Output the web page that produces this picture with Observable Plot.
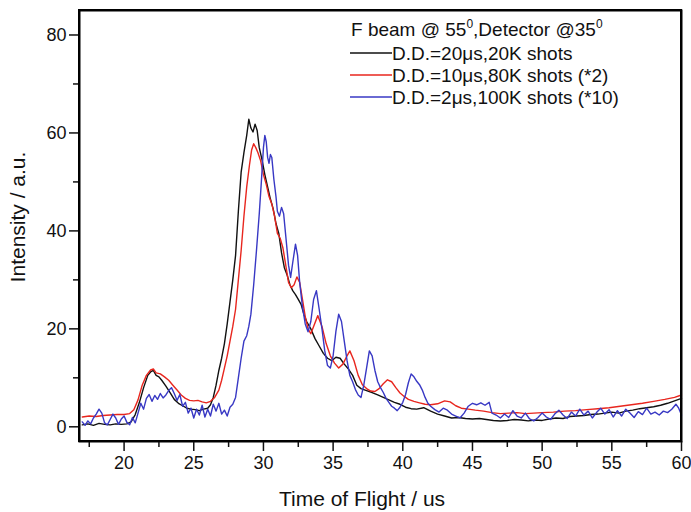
<!DOCTYPE html>
<html><head><meta charset="utf-8">
<script src="https://cdn.jsdelivr.net/npm/d3@7"></script>
<script src="https://cdn.jsdelivr.net/npm/@observablehq/plot@0.6"></script>
<style>body{margin:0;background:#fff} svg{display:block}</style>
</head><body><div id="chart"></div>
<script>
// ---- data ----
const blackT = [17.0,17.4,17.8,18.2,18.6,19.0,19.4,19.8,20.2,20.5,20.8,21.1,21.4,21.7,21.9,22.1,22.3,22.5,22.7,23.0,23.3,23.6,23.9,24.2,24.5,24.8,25.1,25.4,25.7,26.0,26.2,26.4,26.6,26.8,27.0,27.2,27.4,27.6,27.8,28.0,28.2,28.4,28.6,28.8,28.95,29.1,29.25,29.4,29.55,29.7,29.9,30.1,30.3,30.5,30.7,30.9,31.1,31.3,31.5,31.7,31.9,32.1,32.3,32.5,32.7,32.9,33.1,33.4,33.7,34.0,34.3,34.6,34.9,35.2,35.5,35.8,36.1,36.4,36.7,37.0,37.4,37.8,38.2,38.6,39.0,39.4,39.8,40.2,40.6,41.0,41.5,42.0,42.5,43.0,43.5,44.0,44.5,45.0,45.5,46.0,46.5,47.0,47.5,48.0,48.5,49.0,49.5,50.0,50.5,51.0,51.5,52.0,52.5,53.0,53.5,54.0,54.5,55.0,55.5,56.0,56.5,57.0,57.5,58.0,58.5,59.0,59.5,60.0];
const blackV = [0.4,0.6,0.3,0.7,0.5,0.4,0.6,0.5,0.6,1.0,2.5,5.0,8.0,10.5,11.2,11.5,10.5,10.2,9.5,8.3,7.0,5.6,4.8,4.3,3.8,3.6,3.5,3.3,3.6,3.8,4.5,6.0,8.5,11.5,14.0,17.0,21.0,25.5,30.0,35.0,44.0,52.0,56.0,59.5,62.8,61.0,60.2,61.8,60.5,57.0,54.5,51.5,49.0,46.5,44.5,41.5,39.5,35.5,32.5,31.0,29.0,27.8,27.0,26.0,25.0,23.0,21.5,20.0,18.0,16.5,15.0,14.0,13.5,14.2,14.0,12.8,11.8,10.5,8.5,7.8,7.4,7.0,6.5,6.0,5.5,5.0,4.6,4.0,3.7,3.6,3.9,3.2,2.6,2.2,1.8,1.9,1.7,1.6,1.7,1.5,1.3,1.2,1.3,1.5,1.4,1.2,1.4,1.3,1.6,1.8,1.7,2.1,2.2,2.3,2.5,2.6,2.8,3.0,2.8,3.2,3.4,3.7,3.9,4.1,4.4,4.8,5.3,5.8];

const redT = [17.0,17.5,18.0,18.5,19.0,19.5,20.0,20.4,20.7,21.0,21.3,21.6,21.9,22.1,22.3,22.6,22.9,23.2,23.5,23.8,24.1,24.4,24.7,25.0,25.3,25.6,25.9,26.2,26.5,26.8,27.0,27.2,27.4,27.6,27.8,28.0,28.2,28.4,28.6,28.8,29.0,29.15,29.3,29.45,29.6,29.8,30.0,30.2,30.4,30.6,30.8,31.0,31.2,31.4,31.6,31.8,32.0,32.2,32.4,32.6,32.8,33.0,33.2,33.4,33.6,33.9,34.2,34.5,34.8,35.1,35.4,35.7,36.0,36.2,36.5,36.8,37.1,37.4,37.7,38.0,38.3,38.6,38.9,39.2,39.5,39.8,40.1,40.4,40.8,41.2,41.6,42.0,42.5,43.0,43.4,43.8,44.2,44.7,45.2,45.8,46.4,47.0,47.6,48.2,48.8,49.4,50.0,50.8,51.6,52.4,53.2,54.0,54.8,55.6,56.4,57.2,58.0,58.8,59.5,60.0];
const redV = [2.0,2.2,2.1,2.3,2.4,2.5,2.5,2.7,3.5,5.5,8.5,10.5,11.6,11.8,11.0,10.8,10.2,9.5,8.5,7.5,6.5,5.8,5.4,5.3,5.4,5.1,4.9,5.2,6.0,7.5,9.5,12.0,14.5,17.5,20.5,24.0,30.0,36.0,43.0,49.0,53.5,56.5,57.8,57.0,56.0,54.3,51.5,49.5,47.0,45.5,43.0,39.5,38.5,36.5,33.0,29.5,28.4,29.0,30.6,29.5,26.0,22.5,20.0,19.0,20.5,22.7,20.5,17.0,14.5,13.0,12.0,12.8,14.5,15.5,13.5,10.5,8.6,7.8,7.3,7.2,7.8,8.8,9.6,9.2,8.0,6.9,6.2,5.6,5.2,4.9,4.6,4.5,4.7,5.3,5.1,4.3,3.8,3.6,3.4,3.2,2.9,2.7,2.8,2.9,2.7,2.8,2.9,3.0,3.2,3.3,3.5,3.7,3.9,4.2,4.5,4.8,5.2,5.6,6.0,6.5];

const blueT = [17.0,17.2,17.4,17.6,17.8,18.0,18.2,18.4,18.6,18.8,19.0,19.2,19.4,19.6,19.8,20.0,20.2,20.4,20.6,20.8,21.0,21.2,21.4,21.6,21.8,22.0,22.2,22.4,22.6,22.8,23.0,23.2,23.4,23.6,23.8,24.0,24.2,24.4,24.6,24.8,25.0,25.2,25.4,25.6,25.8,26.0,26.2,26.4,26.6,26.8,27.0,27.2,27.4,27.6,27.8,28.0,28.2,28.4,28.6,28.8,28.95,29.1,29.3,29.5,29.7,29.85,30.0,30.1,30.2,30.3,30.4,30.5,30.6,30.75,30.9,31.0,31.15,31.3,31.45,31.6,31.8,31.95,32.1,32.3,32.45,32.6,32.8,33.0,33.2,33.4,33.6,33.8,34.0,34.2,34.4,34.6,34.8,35.0,35.2,35.4,35.6,35.8,36.0,36.2,36.4,36.6,36.8,37.0,37.2,37.4,37.6,37.8,38.0,38.2,38.4,38.6,38.8,39.0,39.2,39.4,39.6,39.8,40.0,40.2,40.4,40.6,40.8,41.0,41.2,41.4,41.6,41.8,42.0,42.3,42.6,42.9,43.2,43.5,43.8,44.1,44.4,44.7,45.0,45.3,45.6,45.9,46.2,46.4,46.7,47.0,47.3,47.6,47.9,48.2,48.5,48.8,49.1,49.4,49.7,50.0,50.3,50.6,50.9,51.2,51.5,51.8,52.1,52.4,52.7,53.0,53.3,53.6,53.9,54.2,54.5,54.8,55.1,55.4,55.7,56.0,56.3,56.6,56.9,57.2,57.5,57.8,58.1,58.4,58.7,59.0,59.3,59.6,59.8,60.0];
const blueV = [1.0,0.3,1.2,0.6,1.8,2.6,3.6,2.8,0.8,0.4,1.5,2.6,1.8,0.5,1.6,2.2,0.9,0.4,1.9,0.8,2.8,4.8,3.6,5.8,6.6,5.2,6.4,5.6,6.8,5.9,6.5,7.4,8.0,6.8,5.4,6.6,4.2,5.0,2.8,3.8,1.8,3.6,2.4,4.4,2.0,3.6,2.2,4.6,3.2,4.8,2.6,3.4,2.2,4.0,4.6,6.0,10.0,14.0,17.5,18.6,20.5,23.0,29.0,36.0,43.5,50.0,57.0,59.5,58.2,55.0,53.8,55.6,55.0,50.5,47.0,44.0,43.0,44.8,43.5,39.0,33.0,30.5,33.5,37.3,35.0,29.5,24.5,21.0,19.4,21.5,26.0,27.8,24.0,20.0,15.5,12.5,12.0,14.5,19.5,23.0,21.5,17.5,13.5,10.5,9.2,7.6,6.5,6.0,8.5,12.0,15.5,14.5,11.5,9.2,8.0,7.0,5.8,5.0,4.2,3.8,3.3,4.0,5.0,6.6,9.0,10.8,10.2,9.3,8.6,7.5,6.0,4.8,4.2,3.5,3.0,3.8,3.4,2.6,2.2,1.8,2.8,4.2,4.8,4.5,4.9,4.4,5.0,2.8,2.4,1.8,2.6,1.9,3.3,2.2,1.8,2.8,1.6,1.2,1.9,2.8,2.0,1.5,2.6,3.4,2.4,1.7,3.0,2.2,3.6,2.4,3.2,1.8,2.9,3.8,2.6,3.5,2.0,3.3,2.2,3.6,2.8,1.9,3.1,2.5,3.8,2.6,3.0,2.4,3.2,2.9,3.6,4.6,3.8,2.4];

const seriesNames = ["D.D.=20\u03bcs,20K shots", "D.D.=10\u03bcs,80K shots (*2)", "D.D.=2\u03bcs,100K shots (*10)"];
const seriesColors = ["#111111", "#e8261e", "#3838c4"];
const xDomain = [16.8, 60];
const yDomain = [-3, 85];
const xMajor = [20, 25, 30, 35, 40, 45, 50, 55, 60];
const xMinor = [17.5, 22.5, 27.5, 32.5, 37.5, 42.5, 47.5, 52.5, 57.5];
const yMajor = [0, 20, 40, 60, 80];
const yMinor = [10, 30, 50, 70];
const xLabel = "Time of Flight / us";
const yLabel = "Intensity / a.u.";

(function () {
  // ---- build table ----
  const data = [];
  [[blackT, blackV], [redT, redV], [blueT, blueV]].forEach(([T, V], k) => {
    T.forEach((t, i) => data.push({series: seriesNames[k], t, v: V[i]}));
  });

  const font = "'Liberation Sans', Arial, sans-serif";
  const plot = Plot.plot({
    width: 691, height: 512,
    marginLeft: 79, marginRight: 10, marginTop: 10, marginBottom: 71,
    style: {fontFamily: font, fontSize: "18px", background: "white", color: "#111"},
    x: {domain: xDomain},
    y: {domain: yDomain},
    color: {domain: seriesNames, range: seriesColors},
    marks: [
      Plot.frame({stroke: "#000", strokeWidth: 2, fill: "none"}),
      Plot.axisX({ticks: xMajor, tickSize: 10, tickPadding: 5, label: null, strokeWidth: 1.5}),
      Plot.axisX({ticks: xMinor, tickSize: 6, tickFormat: () => "", label: null, strokeWidth: 1.5}),
      Plot.axisY({ticks: yMajor, tickSize: 10, tickPadding: 3, label: null, strokeWidth: 1.5}),
      Plot.axisY({ticks: yMinor, tickSize: 6, tickFormat: () => "", label: null, strokeWidth: 1.5}),
      Plot.line(data, {x: "t", y: "v", z: "series", stroke: "series", strokeWidth: 1.4, curve: "linear"})
    ]
  });
  document.getElementById("chart").appendChild(plot);

  const svg = d3.select(plot);
  const xr = plot.scale("x").range, yr = plot.scale("y").range;
  const fL = Math.min(...xr), fR = Math.max(...xr), fT = Math.min(...yr), fB = Math.max(...yr);

  // plot box as a path
  svg.append("path")
    .attr("d", `M${fL},${fT}L${fR},${fT}L${fR},${fB}L${fL},${fB}Z`)
    .style("fill", "none").style("stroke", "#000").style("stroke-width", "2px");

  // axis titles
  svg.append("text").attr("transform", `translate(${fL + 283},${fB + 65})`)
    .attr("text-anchor", "middle").attr("font-family", font).attr("font-size", 21).attr("fill", "#111").text(xLabel);
  svg.append("text").attr("transform", `translate(${fL - 54},${fT + 207}) rotate(-90)`)
    .attr("text-anchor", "middle").attr("font-family", font).attr("font-size", 21).attr("fill", "#111").text(yLabel);

  // ---- legend inside the frame ----
  const lg = svg.append("g").attr("font-family", font).attr("font-size", 19).attr("fill", "#111").attr("text-anchor", "start");
  const t0 = lg.append("text").attr("x", fL + 272).attr("y", fT + 26);
  t0.append("tspan").text("F beam @ 55");
  t0.append("tspan").attr("dy", -8).attr("font-size", 12).text("0");
  t0.append("tspan").attr("dy", 8).text(",Detector @35");
  t0.append("tspan").attr("dy", -8).attr("font-size", 12).text("0");
  seriesNames.forEach((name, i) => {
    const yy = fT + 43 + i * 22;
    lg.append("line").attr("x1", fL + 271).attr("x2", fL + 313).attr("y1", yy).attr("y2", yy)
      .attr("stroke", seriesColors[i]).attr("stroke-width", 1.5);
    lg.append("text").attr("x", fL + 313).attr("y", yy + 7).text(name);
  });
})();
</script>
</body></html>
